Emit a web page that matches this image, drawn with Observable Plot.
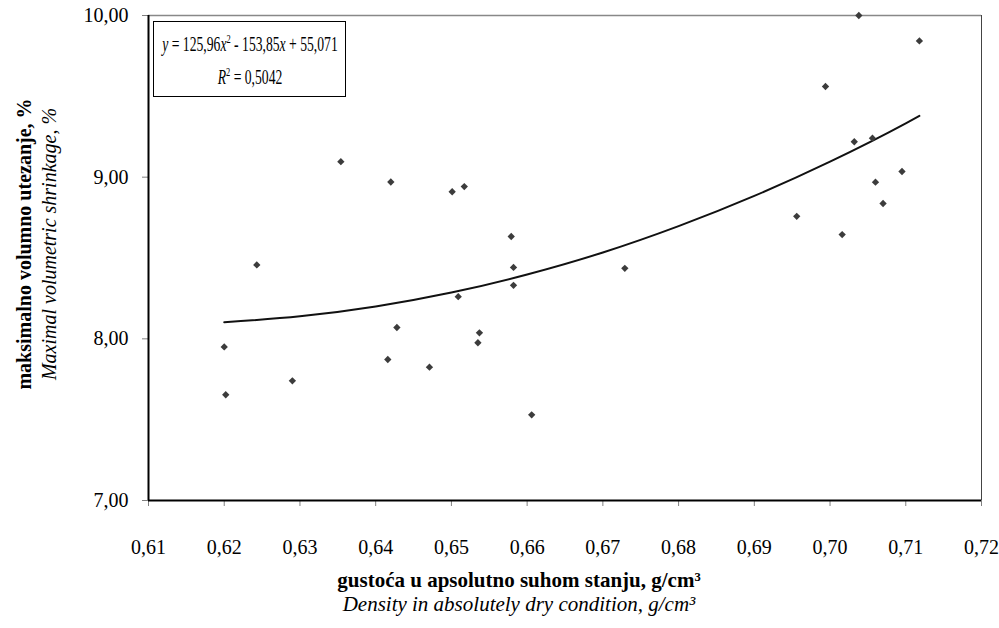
<!DOCTYPE html>
<html>
<head>
<meta charset="utf-8">
<script src="https://cdn.jsdelivr.net/npm/d3@7"></script>
<script src="https://cdn.jsdelivr.net/npm/@observablehq/plot@0.6"></script>
<style>
  html, body { margin: 0; padding: 0; background: #fff; }
  #wrap { position: relative; width: 999px; height: 628px; font-family: "Liberation Serif", "Times New Roman", serif; }
  #eq {
    position: absolute; left: 153px; top: 21px; width: 193px; height: 76px;
    box-sizing: border-box; border: 1px solid #000; background: #fff;
    font-size: 21px; line-height: 33px; padding-top: 6px; color: #000;
    white-space: nowrap;
  }
  #eq .ln {
    display: block; width: max-content; position: relative; left: 50%;
    transform: translateX(-50%) scaleX(0.65); transform-origin: center;
  }
  #eq sup { font-size: 0.62em; vertical-align: 0.6em; line-height: 0; }
</style>
</head>
<body>
<div id="wrap"></div>
<script>
// Measured points: density (g/cm3) and maximal volumetric shrinkage (%)
const density = [0.6200, 0.6202, 0.6243, 0.6290, 0.6354, 0.6416, 0.6420, 0.6428, 0.6471, 0.6501,
                 0.6509, 0.6517, 0.6535, 0.6537, 0.6579, 0.6582, 0.6582, 0.6606, 0.6729, 0.6956,
                 0.6994, 0.7016, 0.7032, 0.7038, 0.7056, 0.7060, 0.7070, 0.7095, 0.7118];
const shrinkage = [7.950, 7.654, 8.457, 7.740, 9.096, 7.872, 8.970, 8.070, 7.825, 8.910,
                   8.261, 8.942, 7.976, 8.037, 8.633, 8.442, 8.331, 7.530, 8.436, 8.758,
                   9.561, 8.645, 9.219, 10.000, 9.241, 8.969, 8.837, 9.035, 9.843];
// Polynomial trend line
const trendX = [0.62, 0.63, 0.64, 0.65, 0.66, 0.67, 0.68, 0.69, 0.70, 0.71, 0.7118];
const trendY = [8.103, 8.139, 8.200, 8.286, 8.398, 8.534, 8.697, 8.884, 9.096, 9.333, 9.379];
// Tick values
const xTicks = [0.61, 0.62, 0.63, 0.64, 0.65, 0.66, 0.67, 0.68, 0.69, 0.70, 0.71, 0.72];
const yTicks = [7, 8, 9, 10];
// Texts
const xLabelBold = "gustoća u apsolutno suhom stanju, g/cm³";
const xLabelItalic = "Density in absolutely dry condition, g/cm³";
const yLabelBold = "maksimalno volumno utezanje, %";
const yLabelItalic = "Maximal volumetric shrinkage, %";
const eqLine1 = '<i>y</i> = 125,96<i>x</i><sup>2</sup> - 153,85<i>x</i> + 55,071';
const eqLine2 = '<i>R</i><sup>2</sup> = 0,5042';

const points = density.map((d, i) => ({x: d, y: shrinkage[i]}));
const trend = trendX.map((d, i) => ({x: d, y: trendY[i]}));
const fmt = d => d.toFixed(2).replace(".", ",");

const chart = Plot.plot({
  width: 999,
  height: 628,
  marginLeft: 148,
  marginRight: 18,
  marginTop: 15,
  marginBottom: 128,
  style: {fontFamily: "Liberation Serif, Times New Roman, serif", fontSize: "21px", background: "#fff", color: "#000"},
  x: {domain: [0.61, 0.72]},
  y: {domain: [7, 10]},
  marks: [
    Plot.frame({stroke: "#444", strokeWidth: 1}),
    Plot.ruleY([10], {stroke: "#888", strokeWidth: 1.5}),
    Plot.axisX({ticks: xTicks, tickFormat: fmt, tickSize: 6, tickPadding: 33, stroke: "#808080", fill: "#000", fontSize: 20, label: null}),
    Plot.axisY({ticks: yTicks, tickFormat: fmt, tickSize: 6, tickPadding: 14, stroke: "#808080", fill: "#000", fontSize: 20, label: null}),
    Plot.ruleX([0.61], {stroke: "#000", strokeWidth: 2}),
    Plot.ruleY([7], {stroke: "#000", strokeWidth: 2}),
    Plot.line(trend, {x: "x", y: "y", curve: "monotone-x", stroke: "#111", strokeWidth: 2}),
    Plot.dot(points, {x: "x", y: "y", symbol: "diamond2", r: 3.3, fill: "#3c3c3c", stroke: "none"}),
    Plot.text([xLabelBold], {frameAnchor: "bottom", textAnchor: "middle", dx: -46, dy: 80, fontWeight: "bold", fontSize: 21, fill: "#000", lineAnchor: "middle"}),
    Plot.text([xLabelItalic], {frameAnchor: "bottom", textAnchor: "middle", dx: -46, dy: 104, fontStyle: "italic", fontSize: 21, fill: "#000", lineAnchor: "middle"}),
    Plot.text([yLabelBold], {frameAnchor: "left", textAnchor: "middle", rotate: -90, dx: -124, dy: -14, fontWeight: "bold", fontSize: 20, fill: "#000", lineAnchor: "middle"}),
    Plot.text([yLabelItalic], {frameAnchor: "left", textAnchor: "middle", rotate: -90, dx: -99, dy: -14, fontStyle: "italic", fontSize: 20, fill: "#000", lineAnchor: "middle"})
  ]
});

const wrap = document.getElementById("wrap");
wrap.appendChild(chart);
const eq = document.createElement("div");
eq.id = "eq";
eq.innerHTML = '<span class="ln">' + eqLine1 + '</span><span class="ln">' + eqLine2 + '</span>';
wrap.appendChild(eq);
</script>
</body>
</html>
